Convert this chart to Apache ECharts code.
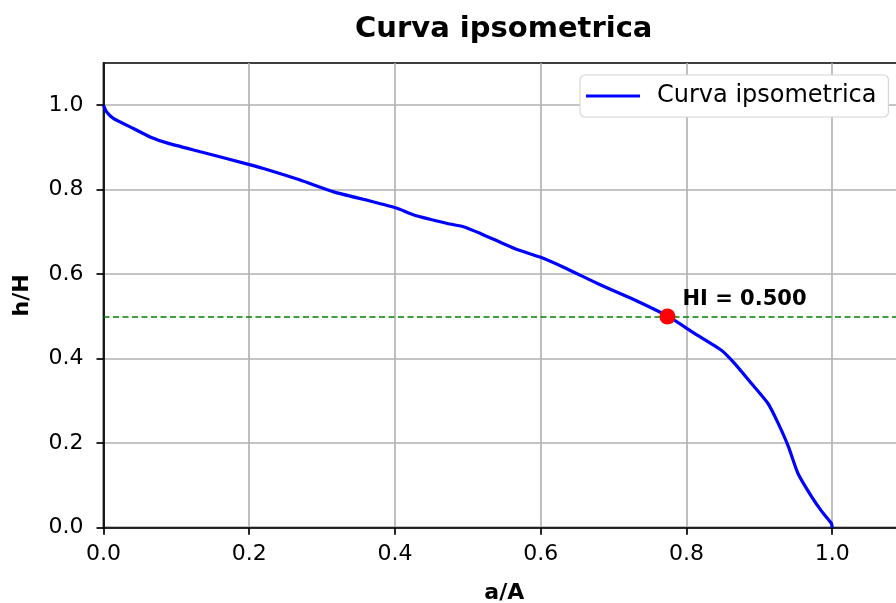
<!DOCTYPE html>
<html>
<head>
<meta charset="utf-8">
<script src="https://cdn.jsdelivr.net/npm/echarts@6/dist/echarts.min.js"></script>
<style>
  html, body { margin: 0; padding: 0; background: #fff; }
  #chart { width: 896px; height: 603px; }
</style>
</head>
<body>
<div id="chart"></div>
<script>
// curve
const areaRel = [0, 0.0044, 0.0135, 0.041, 0.064, 0.087, 0.133, 0.199, 0.224, 0.270, 0.316, 0.362, 0.380, 0.403,
  0.426, 0.472, 0.495, 0.518, 0.564, 0.600, 0.632, 0.678, 0.724, 0.775, 0.811, 0.848, 0.866,
  0.889, 0.912, 0.926, 0.940, 0.953, 0.972, 0.986, 0.999, 1.0];
const heightRel = [1.0, 0.984, 0.969, 0.945, 0.925, 0.911, 0.890, 0.860, 0.848, 0.823, 0.795, 0.775, 0.767, 0.756,
  0.740, 0.720, 0.712, 0.696, 0.661, 0.640, 0.616, 0.578, 0.543, 0.500, 0.460, 0.420, 0.389,
  0.342, 0.294, 0.247, 0.192, 0.129, 0.073, 0.038, 0.010, 0.0];
const hiPoint = [0.774, 0.5];
const hiValue = 0.5;
const tickValues = [0, 0.2, 0.4, 0.6, 0.8, 1.0];

const FONT = 'DejaVu Sans';
const curve = areaRel.map((x, i) => [x, heightRel[i]]);

function axisCommon() {
  return {
    type: 'value',
    min: 0,
    max: 1.1,
    axisLine: { show: true, lineStyle: { color: '#000', width: 1.7 } },
    axisTick: { show: true, length: 7, customValues: tickValues, lineStyle: { color: '#000', width: 1.7 } },
    axisLabel: {
      customValues: tickValues,
      formatter: v => v.toFixed(1),
      fontFamily: FONT, fontSize: 22, color: '#000'
    },
    splitLine: { show: true, lineStyle: { color: '#b0b0b0', width: 1.6 } },
    nameLocation: 'middle',
    nameTextStyle: { fontFamily: FONT, fontSize: 22, fontWeight: 'bold', color: '#000' }
  };
}

const xAxis = axisCommon();
xAxis.name = 'a/A';
xAxis.nameGap = 55;
xAxis.axisLabel.margin = 16;

const yAxis = axisCommon();
yAxis.name = 'h/H';
yAxis.nameGap = 70;
yAxis.axisLabel.margin = 20;

const chart = echarts.init(document.getElementById('chart'), null, { renderer: 'canvas' });
chart.setOption({
  animation: false,
  backgroundColor: '#fff',
  title: {
    text: 'Curva ipsometrica',
    left: 355,
    top: 15,
    padding: 0,
    textStyle: { fontFamily: FONT, fontSize: 29, fontWeight: 'bold', color: '#000' }
  },
  grid: {
    left: 103.5, top: 63, right: -9, bottom: 75.3,
    containLabel: false,
    outerBoundsMode: 'none',
    show: true, borderColor: '#000', borderWidth: 1.7, backgroundColor: 'transparent'
  },
  legend: {
    data: ['Curva ipsometrica'],
    left: 580,
    top: 75,
    icon: 'rect',
    itemWidth: 54,
    itemHeight: 3,
    backgroundColor: '#fff',
    borderColor: '#d6d6d6',
    borderWidth: 1.2,
    borderRadius: 5,
    padding: [9, 12, 9, 6],
    textStyle: { fontFamily: FONT, fontSize: 24, color: '#000', padding: [0, 0, 0, 12] }
  },
  xAxis: xAxis,
  yAxis: yAxis,
  series: [
    {
      name: 'Curva ipsometrica',
      type: 'line',
      data: curve,
      showSymbol: false,
      symbol: 'none',
      smooth: 0.2,
      color: '#0000ff',
      lineStyle: { color: '#0000ff', width: 3.2 },
      z: 3,
      markLine: {
        silent: true,
        symbol: ['none', 'none'],
        label: { show: false },
        lineStyle: { color: '#008000', width: 1.5, type: [6, 3.5] },
        data: [{ yAxis: hiValue }]
      }
    },
    {
      name: 'HI',
      type: 'scatter',
      data: [hiPoint],
      symbol: 'circle',
      symbolSize: 16,
      itemStyle: { color: '#ff0000', opacity: 1 },
      z: 5,
      label: {
        show: true,
        position: 'right',
        distance: 7,
        offset: [0, -17],
        formatter: 'HI = ' + hiValue.toFixed(3),
        fontFamily: FONT, fontSize: 21, fontWeight: 'bold', color: '#000'
      }
    }
  ]
});
</script>
</body>
</html>
